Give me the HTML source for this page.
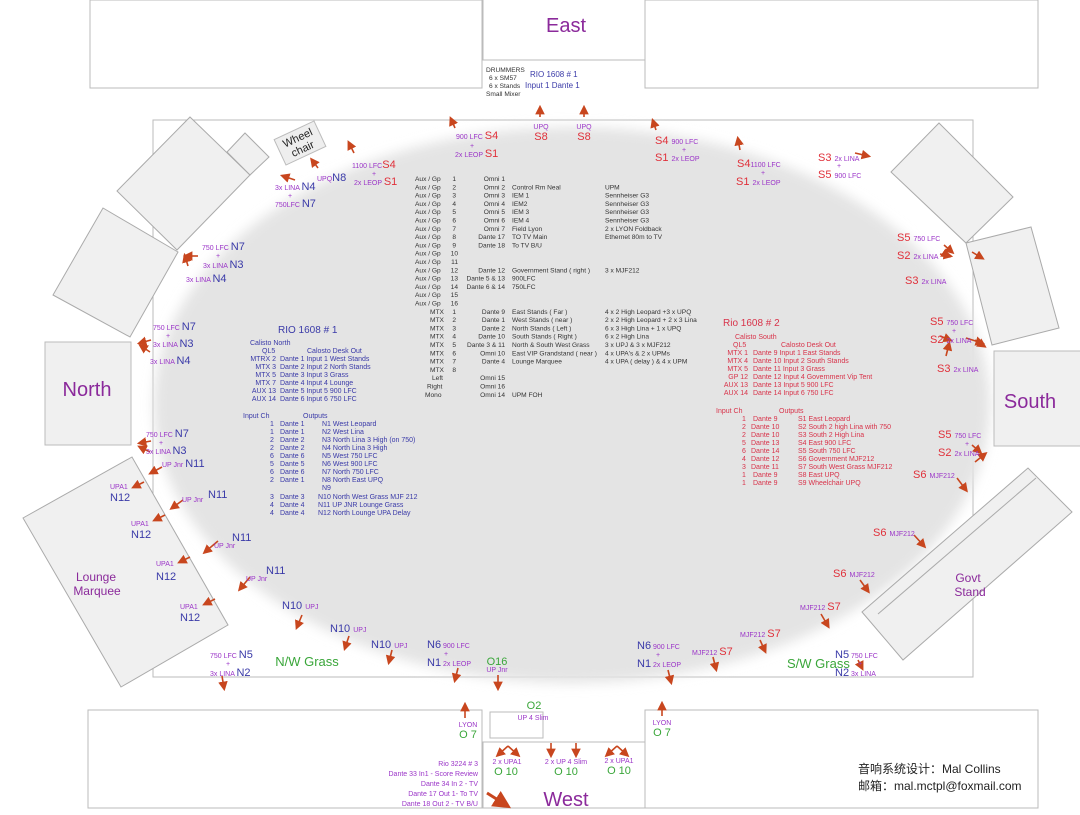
<!DOCTYPE html>
<html><head><meta charset="utf-8"><style>
html,body{margin:0;padding:0;background:#fff}
svg{display:block}
text{font-family:"Liberation Sans","Noto Sans CJK SC",sans-serif}
.k{font-size:6.6px;fill:#333}
.b{font-size:7px;fill:#3a3aa8}
.r{font-size:7px;fill:#d8334a}
.p{font-size:7px;fill:#9b35c8}
.N{font-size:11px;fill:#3a3aa8}
.S{font-size:11px;fill:#e0303a}
.O{font-size:11px;fill:#3aa63a}
.big{font-size:20px;fill:#8b2a9b}
.st{font-size:12px;fill:#8b2a9b}
.g{font-size:13px;fill:#3aa63a}
.box{fill:#fff;stroke:#bbb;stroke-width:1}
.sq{fill:#f0f0f0;stroke:#aaa;stroke-width:1}
.a{stroke:#c8461e;stroke-width:1.6;marker-end:url(#ah)}
</style></head><body>
<svg width="1080" height="815" viewBox="0 0 1080 815" xmlns="http://www.w3.org/2000/svg">
<defs>
<marker id="ah" markerWidth="6" markerHeight="6" refX="4" refY="3" orient="auto"><path d="M0,0 L6,3 L0,6 z" fill="#c8461e"/></marker>
<filter id="bl"><feGaussianBlur stdDeviation="6"/></filter>
</defs>
<!-- top -->
<rect class="box" x="90" y="0" width="392" height="88"/>
<rect class="box" x="483" y="-1" width="162" height="61"/>
<rect class="box" x="645" y="0" width="393" height="88"/>
<text class="big" x="566" y="32" text-anchor="middle">East</text>
<text class="k" x="486" y="72">DRUMMERS</text>
<text class="k" x="489" y="80">6 x SM57</text>
<text class="k" x="489" y="88">6 x Stands</text>
<text class="k" x="486" y="96">Small Mixer</text>
<text class="b" x="530" y="77" style="font-size:8px">RIO 1608 # 1</text>
<text class="b" x="525" y="88" style="font-size:8px">Input 1 Dante 1</text>
<!-- main field -->
<rect class="box" x="153" y="120" width="820" height="557"/>
<ellipse cx="572" cy="405" rx="418" ry="278" fill="#e4e4e4" filter="url(#bl)"/>
<!-- left stands -->
<polygon class="sq" points="190,117 250,175 177,250 117,191"/>
<polygon class="sq" points="245,133 269,157 250,175 227,152"/>
<polygon class="sq" points="103,208 178,252 130,337 53,295"/>
<rect class="box" x="45" y="342" width="86" height="103" style="fill:#f0f0f0"/>
<text class="big" x="87" y="396" text-anchor="middle">North</text>
<polygon class="sq" points="23,518 132,457 228,625 121,687"/>
<text class="st" x="96" y="581" text-anchor="middle">Lounge</text>
<text class="st" x="97" y="595" text-anchor="middle">Marquee</text>
<g transform="translate(300,143) rotate(-25)"><rect x="-22" y="-14" width="44" height="28" fill="#eee" stroke="#bbb"/><text x="0" y="-2" text-anchor="middle" style="font-size:11px;fill:#222">Wheel</text><text x="0" y="10" text-anchor="middle" style="font-size:11px;fill:#222">chair</text></g>
<!-- right stands -->
<polygon class="sq" points="939,123 1013,197 966,243 891,172"/>
<polygon class="sq" points="966,243 1031,227 1059,328 992,345"/>
<rect class="box" x="994" y="351" width="95" height="95" style="fill:#f0f0f0"/>
<text class="big" x="1030" y="408" text-anchor="middle">South</text>
<polygon class="sq" points="862,612 1028,468 1072,512 903,660"/>
<line x1="878" y1="614" x2="1036" y2="478" stroke="#aaa"/>
<text class="st" x="968" y="582" text-anchor="middle">Govt</text>
<text class="st" x="970" y="596" text-anchor="middle">Stand</text>
<!-- bottom -->
<rect class="box" x="88" y="710" width="394" height="98"/>
<rect class="box" x="483" y="742" width="162" height="66"/>
<rect class="box" x="645" y="710" width="393" height="98"/>
<rect class="box" x="490" y="712" width="53" height="26"/>
<text class="big" x="566" y="806" text-anchor="middle">West</text>

<!-- arrows -->
<line class="a" x1="540" y1="117" x2="540" y2="108"/>
<line class="a" x1="584" y1="117" x2="584" y2="108"/>
<line class="a" x1="455" y1="128" x2="451" y2="119"/>
<line class="a" x1="656" y1="130" x2="653" y2="121"/>
<line class="a" x1="740" y1="150" x2="738" y2="139"/>
<line class="a" x1="855" y1="153" x2="868" y2="156"/>
<line class="a" x1="354" y1="153" x2="349" y2="143"/>
<line class="a" x1="318" y1="168" x2="312" y2="160"/>
<line class="a" x1="295" y1="180" x2="283" y2="176"/>
<line class="a" x1="198" y1="256" x2="186" y2="256"/>
<line class="a" x1="188" y1="266" x2="185" y2="256"/>
<line class="a" x1="151" y1="340" x2="140" y2="343"/>
<line class="a" x1="150" y1="352" x2="141" y2="346"/>
<line class="a" x1="151" y1="441" x2="140" y2="443"/>
<line class="a" x1="150" y1="452" x2="140" y2="447"/>
<line class="a" x1="162" y1="467" x2="151" y2="473"/>
<line class="a" x1="144" y1="482" x2="134" y2="487"/>
<line class="a" x1="183" y1="500" x2="172" y2="508"/>
<line class="a" x1="165" y1="515" x2="155" y2="520"/>
<line class="a" x1="218" y1="541" x2="205" y2="552"/>
<line class="a" x1="190" y1="557" x2="180" y2="562"/>
<line class="a" x1="250" y1="577" x2="240" y2="589"/>
<line class="a" x1="215" y1="599" x2="205" y2="604"/>
<line class="a" x1="302" y1="615" x2="297" y2="627"/>
<line class="a" x1="349" y1="636" x2="345" y2="648"/>
<line class="a" x1="392" y1="650" x2="389" y2="662"/>
<line class="a" x1="458" y1="668" x2="455" y2="680"/>
<line class="a" x1="498" y1="675" x2="498" y2="688"/>
<line class="a" x1="222" y1="676" x2="224" y2="688"/>
<line class="a" x1="668" y1="670" x2="671" y2="682"/>
<line class="a" x1="713" y1="657" x2="716" y2="669"/>
<line class="a" x1="760" y1="640" x2="765" y2="651"/>
<line class="a" x1="821" y1="614" x2="828" y2="626"/>
<line class="a" x1="860" y1="580" x2="868" y2="591"/>
<line class="a" x1="914" y1="535" x2="924" y2="546"/>
<line class="a" x1="957" y1="478" x2="966" y2="490"/>
<line class="a" x1="858" y1="660" x2="862" y2="668"/>
<line class="a" x1="944" y1="245" x2="952" y2="252"/>
<line class="a" x1="972" y1="252" x2="982" y2="258"/>
<line class="a" x1="940" y1="254" x2="950" y2="256"/>
<line class="a" x1="945" y1="254" x2="948" y2="256"/>
<line class="a" x1="940" y1="336" x2="950" y2="340"/>
<line class="a" x1="946" y1="356" x2="949" y2="344"/>
<line class="a" x1="966" y1="338" x2="982" y2="343"/>
<line class="a" x1="975" y1="340" x2="984" y2="346"/>
<line class="a" x1="972" y1="445" x2="980" y2="452"/>
<line class="a" x1="975" y1="462" x2="985" y2="454"/>
<line class="a" x1="465" y1="718" x2="465" y2="705"/>
<line class="a" x1="662" y1="716" x2="662" y2="704"/>
<line class="a" x1="508" y1="746" x2="498" y2="755"/>
<line class="a" x1="508" y1="746" x2="518" y2="755"/>
<line class="a" x1="551" y1="743" x2="551" y2="755"/>
<line class="a" x1="576" y1="743" x2="576" y2="755"/>
<line class="a" x1="617" y1="746" x2="607" y2="755"/>
<line class="a" x1="617" y1="746" x2="627" y2="755"/>
<line x1="487" y1="793" x2="506" y2="805" stroke="#c8461e" stroke-width="3" marker-end="url(#ah)"/>

<!-- perimeter labels top -->
<text x="541" y="129" class="p" text-anchor="middle">UPQ</text><text x="541" y="140" class="S" text-anchor="middle">S8</text>
<text x="584" y="129" class="p" text-anchor="middle">UPQ</text><text x="584" y="140" class="S" text-anchor="middle">S8</text>
<text x="456" y="139"><tspan class="p">900 LFC </tspan><tspan class="S">S4</tspan></text>
<text x="470" y="148" class="p">+</text>
<text x="455" y="157"><tspan class="p">2x LEOP </tspan><tspan class="S">S1</tspan></text>
<text x="655" y="144"><tspan class="S">S4 </tspan><tspan class="p">900 LFC</tspan></text>
<text x="682" y="152" class="p">+</text>
<text x="655" y="161"><tspan class="S">S1 </tspan><tspan class="p">2x LEOP</tspan></text>
<text x="737" y="167"><tspan class="S">S4</tspan><tspan class="p">1100 LFC</tspan></text>
<text x="761" y="175" class="p">+</text>
<text x="736" y="185"><tspan class="S">S1 </tspan><tspan class="p">2x LEOP</tspan></text>
<text x="818" y="161"><tspan class="S">S3 </tspan><tspan class="p">2x LINA</tspan></text>
<text x="837" y="168" class="p">+</text>
<text x="818" y="178"><tspan class="S">S5 </tspan><tspan class="p">900 LFC</tspan></text>
<text x="352" y="168"><tspan class="p">1100 LFC</tspan><tspan class="S">S4</tspan></text>
<text x="372" y="176" class="p">+</text>
<text x="354" y="185"><tspan class="p">2x LEOP </tspan><tspan class="S">S1</tspan></text>
<text x="317" y="181"><tspan class="p">UPQ</tspan><tspan class="N">N8</tspan></text>
<text x="275" y="190"><tspan class="p">3x LINA </tspan><tspan class="N">N4</tspan></text>
<text x="288" y="198" class="p">+</text>
<text x="275" y="207"><tspan class="p">750LFC </tspan><tspan class="N">N7</tspan></text>
<text x="202" y="250"><tspan class="p">750 LFC </tspan><tspan class="N">N7</tspan></text>
<text x="216" y="258" class="p">+</text>
<text x="203" y="268"><tspan class="p">3x LINA </tspan><tspan class="N">N3</tspan></text>
<text x="186" y="282"><tspan class="p">3x LINA </tspan><tspan class="N">N4</tspan></text>
<text x="153" y="330"><tspan class="p">750 LFC </tspan><tspan class="N">N7</tspan></text>
<text x="166" y="338" class="p">+</text>
<text x="153" y="347"><tspan class="p">3x LINA </tspan><tspan class="N">N3</tspan></text>
<text x="150" y="364"><tspan class="p">3x LINA </tspan><tspan class="N">N4</tspan></text>
<text x="146" y="437"><tspan class="p">750 LFC </tspan><tspan class="N">N7</tspan></text>
<text x="159" y="445" class="p">+</text>
<text x="146" y="454"><tspan class="p">3x LINA </tspan><tspan class="N">N3</tspan></text>
<text x="162" y="467"><tspan class="p">UP Jnr </tspan><tspan class="N">  N11</tspan></text>
<text x="110" y="489" class="p">UPA1</text><text x="110" y="501" class="N">N12</text>
<text x="182" y="502" class="p">UP Jnr</text><text x="208" y="498" class="N">N11</text>
<text x="131" y="526" class="p">UPA1</text><text x="131" y="538" class="N">N12</text>
<text x="232" y="541" class="N">N11</text><text x="214" y="548" class="p">UP Jnr</text>
<text x="156" y="566" class="p">UPA1</text><text x="156" y="580" class="N">N12</text>
<text x="266" y="574" class="N">N11</text><text x="246" y="581" class="p">UP Jnr</text>
<text x="180" y="609" class="p">UPA1</text><text x="180" y="621" class="N">N12</text>
<text x="282" y="609"><tspan class="N">N10 </tspan><tspan class="p">UPJ</tspan></text>
<text x="330" y="632"><tspan class="N">N10 </tspan><tspan class="p">UPJ</tspan></text>
<text x="371" y="648"><tspan class="N">N10 </tspan><tspan class="p">UPJ</tspan></text>
<text x="427" y="648"><tspan class="N">N6</tspan><tspan class="p"> 900 LFC</tspan></text>
<text x="444" y="656" class="p">+</text>
<text x="427" y="666"><tspan class="N">N1</tspan><tspan class="p"> 2x LEOP</tspan></text>
<text x="497" y="665" class="O" text-anchor="middle">O16</text>
<text x="497" y="672" class="p" text-anchor="middle">UP Jnr</text>
<text x="307" y="666" class="g" text-anchor="middle">N/W Grass</text>
<text x="210" y="658"><tspan class="p">750 LFC </tspan><tspan class="N">N5</tspan></text>
<text x="226" y="666" class="p">+</text>
<text x="210" y="676"><tspan class="p">3x LINA </tspan><tspan class="N">N2</tspan></text>
<text x="637" y="649"><tspan class="N">N6</tspan><tspan class="p"> 900 LFC</tspan></text>
<text x="656" y="657" class="p">+</text>
<text x="637" y="667"><tspan class="N">N1</tspan><tspan class="p"> 2x LEOP</tspan></text>
<text x="692" y="655"><tspan class="p">MJF212 </tspan><tspan class="S">S7</tspan></text>
<text x="740" y="637"><tspan class="p">MJF212 </tspan><tspan class="S">S7</tspan></text>
<text x="800" y="610"><tspan class="p">MJF212 </tspan><tspan class="S">S7</tspan></text>
<text x="787" y="668" class="g" text-anchor="start">S/W Grass</text>
<text x="835" y="658"><tspan class="N">N5</tspan><tspan class="p"> 750 LFC</tspan></text>
<text x="858" y="666" class="p">+</text>
<text x="835" y="676"><tspan class="N">N2</tspan><tspan class="p"> 3x LINA</tspan></text>
<text x="833" y="577"><tspan class="S">S6 </tspan><tspan class="p">MJF212</tspan></text>
<text x="873" y="536"><tspan class="S">S6 </tspan><tspan class="p">MJF212</tspan></text>
<text x="913" y="478"><tspan class="S">S6 </tspan><tspan class="p">MJF212</tspan></text>
<text x="897" y="241"><tspan class="S">S5 </tspan><tspan class="p">750 LFC</tspan></text>
<text x="897" y="259"><tspan class="S">S2 </tspan><tspan class="p">2x LINA</tspan></text>
<text x="905" y="284"><tspan class="S">S3 </tspan><tspan class="p">2x LINA</tspan></text>
<text x="930" y="325"><tspan class="S">S5 </tspan><tspan class="p">750 LFC</tspan></text>
<text x="952" y="333" class="p">+</text>
<text x="930" y="343"><tspan class="S">S2 </tspan><tspan class="p">2x LINA</tspan></text>
<text x="937" y="372"><tspan class="S">S3 </tspan><tspan class="p">2x LINA</tspan></text>
<text x="938" y="438"><tspan class="S">S5 </tspan><tspan class="p">750 LFC</tspan></text>
<text x="965" y="446" class="p">+</text>
<text x="938" y="456"><tspan class="S">S2 </tspan><tspan class="p">2x LINA</tspan></text>
<!-- bottom labels -->
<text x="468" y="727" class="p" text-anchor="middle">LYON</text><text x="468" y="738" class="O" text-anchor="middle">O 7</text>
<text x="662" y="725" class="p" text-anchor="middle">LYON</text><text x="662" y="736" class="O" text-anchor="middle">O 7</text>
<text x="534" y="709" class="O" text-anchor="middle">O2</text>
<text x="533" y="720" class="p" text-anchor="middle">UP 4 Slim</text>
<text x="507" y="764" class="p" text-anchor="middle">2 x UPA1</text><text x="506" y="775" class="O" text-anchor="middle">O 10</text>
<text x="566" y="764" class="p" text-anchor="middle">2 x UP 4 Slim</text><text x="566" y="775" class="O" text-anchor="middle">O 10</text>
<text x="619" y="763" class="p" text-anchor="middle">2 x UPA1</text><text x="619" y="774" class="O" text-anchor="middle">O 10</text>
<g class="p" text-anchor="end">
<text x="478" y="766" class="p">Rio 3224  # 3</text>
<text x="478" y="776" class="p">Dante 33 In1 - Score Review</text>
<text x="478" y="786" class="p">Dante 34 In 2  - TV</text>
<text x="478" y="796" class="p">Dante 17 Out 1- To TV</text>
<text x="478" y="806" class="p">Dante 18 Out 2  - TV B/U</text>
</g>
<text x="858" y="773" style="font-size:12px;fill:#222">音响系统设计：Mal Collins</text>
<text x="858" y="790" style="font-size:12px;fill:#222">邮箱：mal.mctpl@foxmail.com</text>

<!-- center table -->
<g class="k">
<text x="415" y="181">Aux / Gp</text><text x="415" y="189.3">Aux / Gp</text><text x="415" y="197.6">Aux / Gp</text><text x="415" y="205.9">Aux / Gp</text><text x="415" y="214.2">Aux / Gp</text><text x="415" y="222.5">Aux / Gp</text><text x="415" y="230.8">Aux / Gp</text><text x="415" y="239.1">Aux / Gp</text><text x="415" y="247.4">Aux / Gp</text><text x="415" y="255.7">Aux / Gp</text><text x="415" y="264">Aux / Gp</text><text x="415" y="272.3">Aux / Gp</text><text x="415" y="280.6">Aux / Gp</text><text x="415" y="288.9">Aux / Gp</text><text x="415" y="297.2">Aux / Gp</text><text x="415" y="305.5">Aux / Gp</text>
<text x="430" y="313.8">MTX</text><text x="430" y="322.1">MTX</text><text x="430" y="330.4">MTX</text><text x="430" y="338.7">MTX</text><text x="430" y="347">MTX</text><text x="430" y="355.3">MTX</text><text x="430" y="363.6">MTX</text><text x="430" y="371.9">MTX</text>
<text x="432" y="380.2">Left</text><text x="427" y="388.5">Right</text><text x="425" y="396.8">Mono</text>
</g>
<g class="k" text-anchor="end">
<text x="456" y="181">1</text><text x="456" y="189.3">2</text><text x="456" y="197.6">3</text><text x="456" y="205.9">4</text><text x="456" y="214.2">5</text><text x="456" y="222.5">6</text><text x="456" y="230.8">7</text><text x="456" y="239.1">8</text><text x="456" y="247.4">9</text><text x="458" y="255.7">10</text><text x="458" y="264">11</text><text x="458" y="272.3">12</text><text x="458" y="280.6">13</text><text x="458" y="288.9">14</text><text x="458" y="297.2">15</text><text x="458" y="305.5">16</text>
<text x="456" y="313.8">1</text><text x="456" y="322.1">2</text><text x="456" y="330.4">3</text><text x="456" y="338.7">4</text><text x="456" y="347">5</text><text x="456" y="355.3">6</text><text x="456" y="363.6">7</text><text x="456" y="371.9">8</text>
<text x="505" y="181">Omni 1</text><text x="505" y="189.3">Omni 2</text><text x="505" y="197.6">Omni 3</text><text x="505" y="205.9">Omni 4</text><text x="505" y="214.2">Omni 5</text><text x="505" y="222.5">Omni 6</text><text x="505" y="230.8">Omni 7</text><text x="505" y="239.1">Dante 17</text><text x="505" y="247.4">Dante 18</text>
<text x="505" y="272.3">Dante 12</text><text x="505" y="280.6">Dante 5 &amp; 13</text><text x="505" y="288.9">Dante 6 &amp; 14</text>
<text x="505" y="313.8">Dante 9</text><text x="505" y="322.1">Dante 1</text><text x="505" y="330.4">Dante 2</text><text x="505" y="338.7">Dante 10</text><text x="505" y="347">Dante 3 &amp; 11</text><text x="505" y="355.3">Omni 10</text><text x="505" y="363.6">Dante 4</text>
<text x="505" y="380.2">Omni 15</text><text x="505" y="388.5">Omni 16</text><text x="505" y="396.8">Omni 14</text>
</g>
<g class="k">
<text x="512" y="189.3">Control Rm Neal</text><text x="512" y="197.6">IEM 1</text><text x="512" y="205.9">IEM2</text><text x="512" y="214.2">IEM 3</text><text x="512" y="222.5">IEM 4</text><text x="512" y="230.8">Field Lyon</text><text x="512" y="239.1">TO TV Main</text><text x="512" y="247.4">To TV B/U</text>
<text x="512" y="272.3">Government Stand ( right )</text><text x="512" y="280.6">900LFC</text><text x="512" y="288.9">750LFC</text>
<text x="512" y="313.8">East Stands ( Far )</text><text x="512" y="322.1">West  Stands  ( near )</text><text x="512" y="330.4">North Stands ( Left )</text><text x="512" y="338.7">South Stands ( Right )</text><text x="512" y="347">North &amp; South West Grass</text><text x="512" y="355.3">East VIP Grandstand ( near )</text><text x="512" y="363.6">Lounge Marquee</text>
<text x="512" y="396.8">UPM FOH</text>
<text x="605" y="189.3">UPM</text><text x="605" y="197.6">Sennheiser G3</text><text x="605" y="205.9">Sennheiser G3</text><text x="605" y="214.2">Sennheiser G3</text><text x="605" y="222.5">Sennheiser G3</text><text x="605" y="230.8">2 x LYON Foldback</text><text x="605" y="239.1">Ethernet 80m to TV</text>
<text x="605" y="272.3">3 x MJF212</text>
<text x="605" y="313.8">4 x 2 High Leopard +3 x UPQ</text><text x="605" y="322.1">2 x 2 High Leopard + 2 x 3 Lina</text><text x="605" y="330.4">6 x 3 High Lina + 1 x UPQ</text><text x="605" y="338.7">6 x 2 High Lina</text><text x="605" y="347">3 x UPJ &amp; 3 x MJF212</text><text x="605" y="355.3">4 x UPA's &amp; 2 x UPMs</text><text x="605" y="363.6">4 x UPA ( delay ) &amp; 4 x UPM</text>
</g>

<!-- left table -->
<text x="278" y="333" class="b" style="font-size:10px">RIO 1608 # 1</text>
<text x="250" y="345" class="b">Calisto North</text>
<text x="262" y="353" class="b">QL5</text><text x="307" y="353" class="b">Calosto  Desk Out</text>
<g class="b" text-anchor="end">
<text x="276" y="361">MTRX 2</text><text x="276" y="369">MTX 3</text><text x="276" y="377">MTX 5</text><text x="276" y="385">MTX 7</text><text x="276" y="393">AUX 13</text><text x="276" y="401">AUX 14</text>
</g>
<g class="b">
<text x="280" y="361">Dante 1  Input 1  West Stands</text><text x="280" y="369">Dante 2  Input 2  North Stands</text><text x="280" y="377">Dante 3  Input 3  Grass</text><text x="280" y="385">Dante 4  Input 4  Lounge</text><text x="280" y="393">Dante 5  Input 5  900 LFC</text><text x="280" y="401">Dante 6  Input 6  750 LFC</text>
<text x="243" y="418">Input Ch</text><text x="303" y="418">Outputs</text>
<text x="270" y="426">1</text><text x="270" y="434">1</text><text x="270" y="442">2</text><text x="270" y="450">2</text><text x="270" y="458">6</text><text x="270" y="466">5</text><text x="270" y="474">6</text><text x="270" y="482">2</text><text x="270" y="499">3</text><text x="270" y="507">4</text><text x="270" y="515">4</text>
<text x="280" y="426">Dante 1</text><text x="280" y="434">Dante 1</text><text x="280" y="442">Dante 2</text><text x="280" y="450">Dante 2</text><text x="280" y="458">Dante 6</text><text x="280" y="466">Dante 5</text><text x="280" y="474">Dante 6</text><text x="280" y="482">Dante 1</text><text x="280" y="499">Dante 3</text><text x="280" y="507">Dante 4</text><text x="280" y="515">Dante 4</text>
<text x="322" y="426">N1  West Leopard</text><text x="322" y="434">N2  West Lina</text><text x="322" y="442">N3  North Lina 3 High (on 750)</text><text x="322" y="450">N4  North Lina 3 High</text><text x="322" y="458">N5  West 750 LFC</text><text x="322" y="466">N6  West 900 LFC</text><text x="322" y="474">N7  North 750 LFC</text><text x="322" y="482">N8  North East UPQ</text><text x="322" y="490">N9</text><text x="318" y="499">N10  North West Grass MJF 212</text><text x="318" y="507">N11  UP JNR Lounge Grass</text><text x="318" y="515">N12  North Lounge UPA Delay</text>
</g>

<!-- right table -->
<text x="723" y="326" class="r" style="font-size:10px">Rio 1608 # 2</text>
<text x="735" y="339" class="r">Calisto South</text>
<text x="733" y="347" class="r">QL5</text><text x="781" y="347" class="r">Calosto  Desk Out</text>
<g class="r" text-anchor="end">
<text x="748" y="355">MTX  1</text><text x="748" y="363">MTX  4</text><text x="748" y="371">MTX  5</text><text x="748" y="379">GP 12</text><text x="748" y="387">AUX 13</text><text x="748" y="395">AUX 14</text>
</g>
<g class="r">
<text x="753" y="355">Dante 9  Input 1  East Stands</text><text x="753" y="363">Dante 10  Input 2  South Stands</text><text x="753" y="371">Dante 11  Input 3  Grass</text><text x="753" y="379">Dante 12  Input 4  Government Vip Tent</text><text x="753" y="387">Dante 13  Input 5  900 LFC</text><text x="753" y="395">Dante 14  Input 6  750 LFC</text>
<text x="716" y="413">Input Ch</text><text x="779" y="413">Outputs</text>
<text x="742" y="421">1</text><text x="742" y="429">2</text><text x="742" y="437">2</text><text x="742" y="445">5</text><text x="742" y="453">6</text><text x="742" y="461">4</text><text x="742" y="469">3</text><text x="742" y="477">1</text><text x="742" y="485">1</text>
<text x="753" y="421">Dante 9</text><text x="751" y="429">Dante 10</text><text x="751" y="437">Dante 10</text><text x="751" y="445">Dante 13</text><text x="751" y="453">Dante 14</text><text x="751" y="461">Dante 12</text><text x="751" y="469">Dante 11</text><text x="753" y="477">Dante 9</text><text x="753" y="485">Dante 9</text>
<text x="798" y="421">S1  East Leopard</text><text x="798" y="429">S2  South 2 high  Lina with 750</text><text x="798" y="437">S3  South 2 High Lina</text><text x="798" y="445">S4  East 900 LFC</text><text x="798" y="453">S5  South 750 LFC</text><text x="798" y="461">S6  Government MJF212</text><text x="798" y="469">S7  South West Grass MJF212</text><text x="798" y="477">S8  East UPQ</text><text x="798" y="485">S9  Wheelchair UPQ</text>
</g>
</svg>
</body></html>
